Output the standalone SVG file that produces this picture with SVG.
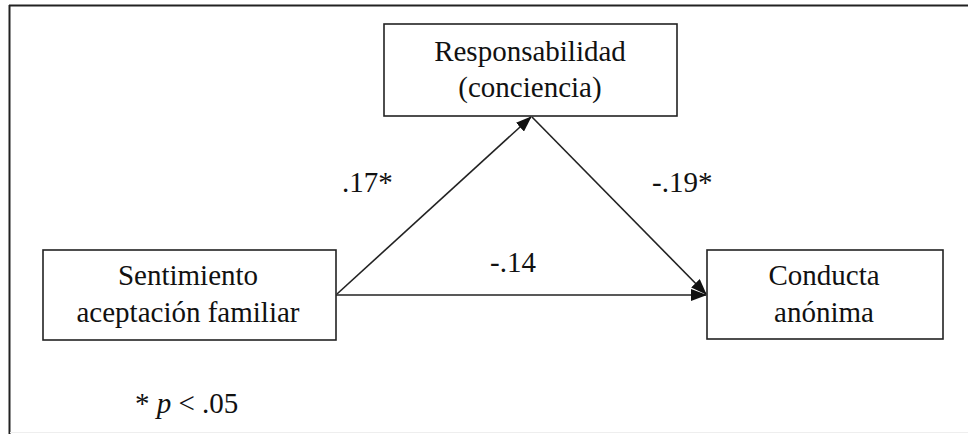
<svg xmlns="http://www.w3.org/2000/svg" width="968" height="434" viewBox="0 0 968 434">
<style>
.box{fill:#fff;stroke:#222;stroke-width:1.6}
.t{font-family:'Liberation Serif','DejaVu Serif',serif;font-size:29px;fill:#111;text-anchor:middle}
.lbl{font-family:'Liberation Serif','DejaVu Serif',serif;font-size:29px;fill:#111}
.c{stroke:#222;stroke-width:1.6;fill:none}
</style>
<defs>
<marker id="ah2" markerWidth="16" markerHeight="12" refX="15" refY="6" orient="auto" markerUnits="userSpaceOnUse" viewBox="0 0 16 12">
<path d="M0,0 L16,6 L0,12 Z" fill="#111"/>
</marker>
</defs>
<rect width="968" height="434" fill="#fff"/>
<g id="frame">
<line x1="9" y1="5.5" x2="968" y2="5.5" stroke="#222" stroke-width="2"/>
<line x1="9.5" y1="5" x2="9.5" y2="434" stroke="#222" stroke-width="2"/>
<line x1="10" y1="432.5" x2="968" y2="432.5" stroke="#eee" stroke-width="1"/>
</g>
<g id="connectors">
<line class="c" x1="337" y1="294" x2="531" y2="117" marker-end="url(#ah2)"/>
<line class="c" x1="532" y1="117" x2="706" y2="294" marker-end="url(#ah2)"/>
<line class="c" x1="336" y1="295" x2="706" y2="295" marker-end="url(#ah2)"/>
</g>
<g id="node-responsabilidad">
<rect class="box" x="384" y="24" width="293" height="92"/>
<text class="t" x="530" y="61" font-family="Liberation Serif, DejaVu Serif, serif">Responsabilidad</text>
<text class="t" x="530" y="97" font-family="Liberation Serif, DejaVu Serif, serif">(conciencia)</text>
</g>
<g id="node-sentimiento">
<rect class="box" x="43" y="250" width="293" height="90"/>
<text class="t" x="188" y="285" font-family="Liberation Serif, DejaVu Serif, serif">Sentimiento</text>
<text class="t" x="188" y="322" font-family="Liberation Serif, DejaVu Serif, serif">aceptación  familiar</text>
</g>
<g id="node-conducta">
<rect class="box" x="707" y="250" width="236" height="89"/>
<text class="t" x="824" y="285" font-family="Liberation Serif, DejaVu Serif, serif">Conducta</text>
<text class="t" x="824" y="322" font-family="Liberation Serif, DejaVu Serif, serif">anónima</text>
</g>
<g id="labels">
<text class="lbl" x="342" y="192" font-family="Liberation Serif, DejaVu Serif, serif">.17*</text>
<text class="lbl" x="652" y="192" font-family="Liberation Serif, DejaVu Serif, serif">-.19*</text>
<text class="lbl" x="490" y="272" font-family="Liberation Serif, DejaVu Serif, serif">-.14</text>
<text class="lbl" x="135" y="413" font-size="27" font-family="Liberation Serif, DejaVu Serif, serif">* <tspan font-style="italic">p</tspan> &lt; .05</text>
</g>
</svg>
